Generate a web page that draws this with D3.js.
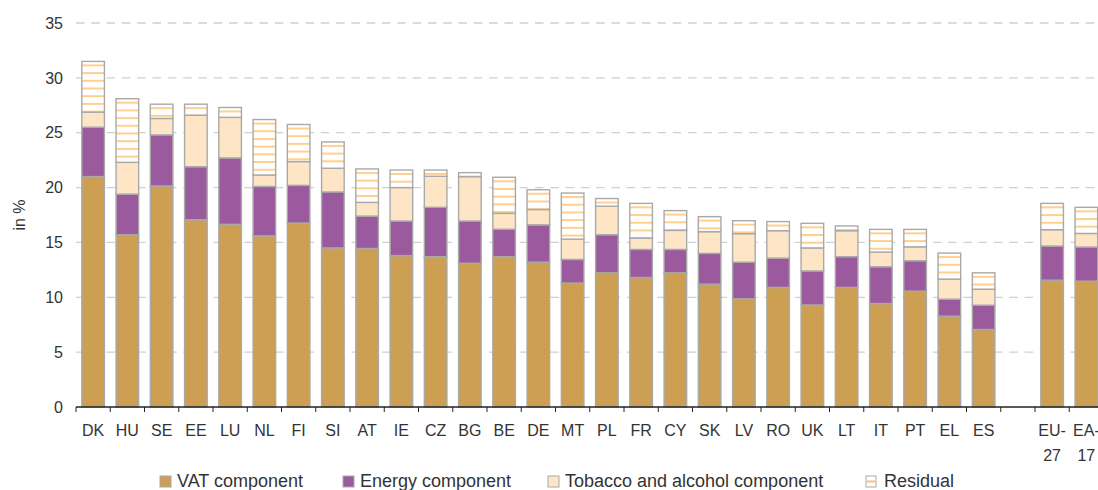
<!DOCTYPE html>
<html>
<head>
<meta charset="utf-8">
<script src="https://cdn.jsdelivr.net/npm/d3@7"></script>
<style>
  body { margin: 0; background: #fff; }
  svg text { font-family: "Liberation Sans", Arial, sans-serif; fill: #333; }
</style>
</head>
<body>
<div id="chart"></div>
<script>
// countries, with an empty slot before the aggregates
var categories = ["DK","HU","SE","EE","LU","NL","FI","SI","AT","IE","CZ","BG","BE","DE","MT",
                  "PL","FR","CY","SK","LV","RO","UK","LT","IT","PT","EL","ES","","EU-27","EA-17"];
var tickLabels = [["DK"],["HU"],["SE"],["EE"],["LU"],["NL"],["FI"],["SI"],["AT"],["IE"],["CZ"],["BG"],["BE"],["DE"],["MT"],
                  ["PL"],["FR"],["CY"],["SK"],["LV"],["RO"],["UK"],["LT"],["IT"],["PT"],["EL"],["ES"],[],["EU-","27"],["EA-","17"]];

var vatComponent     = [21.0,15.7,20.15,17.07,16.65,15.6,16.77,14.5,14.45,13.8,13.7,13.1,13.7,13.2,11.3,
                        12.23,11.8,12.23,11.2,9.86,10.9,9.3,10.9,9.43,10.56,8.28,7.06,null,11.56,11.47];
var energyComponent  = [4.5,3.7,4.65,4.83,6.05,4.5,3.43,5.1,2.95,3.15,4.5,3.85,2.5,3.4,2.15,
                        3.47,2.56,2.13,2.8,3.34,2.67,3.1,2.8,3.35,2.77,1.55,2.22,null,3.11,3.11];
var tobaccoComponent = [1.37,2.9,1.5,4.7,3.7,1.05,2.17,2.16,1.25,3.05,2.83,4.05,1.45,1.4,1.85,
                        2.6,1.04,1.74,1.98,2.6,2.5,2.1,2.37,1.34,1.27,1.83,1.46,null,1.49,1.24];
var residual         = [4.63,5.8,1.3,1.0,0.9,5.05,3.38,2.4,3.05,1.6,0.57,0.36,3.29,1.8,4.2,
                        0.7,3.16,1.8,1.37,1.18,0.83,2.24,0.43,2.07,1.59,2.37,1.49,null,2.4,2.38];

var seriesNames = ["VAT component","Energy component","Tobacco and alcohol component","Residual"];
var yTicks = [0,5,10,15,20,25,30,35];

var colors = ["#cc9f53","#9a5a9d","#fde5c6","url(#resid)"];

var width = 1098, height = 490;
var margin = {top: 23, left: 76, bottom: 83};

var svg = d3.select("#chart").append("svg")
    .attr("width", width)
    .attr("height", height);

var xScale = d3.scaleBand()
    .domain(categories)
    .range([margin.left, margin.left + 30 * 34.25])
    .paddingInner(0.34)
    .paddingOuter(0.17);
var yScale = d3.scaleLinear().domain([0, 35]).range([height - margin.bottom, margin.top]);

var rows = categories.map(function(c, i) {
    return {cat: c, values: [vatComponent[i], energyComponent[i], tobaccoComponent[i], residual[i]]};
}).filter(function(d) { return d.cat !== ""; });

var stack = d3.stack().keys([0,1,2,3]).value(function(d, k) { return d.values[k]; });
var layers = stack(rows);

// stripes for the residual, one pattern per bar so they start from the top
var defs = svg.append("defs");
var stripeGap = 7.7;
rows.forEach(function(d, i) {
    var top = yScale(d3.sum(d.values));
    var p = defs.append("pattern")
        .attr("id", "resid" + i)
        .attr("patternUnits", "userSpaceOnUse")
        .attr("x", 0).attr("y", top + 3)
        .attr("width", 10).attr("height", stripeGap);
    p.append("rect").attr("width", 10).attr("height", stripeGap).attr("fill", "#fff");
    p.append("rect").attr("y", 0).attr("width", 10).attr("height", 2).attr("fill", "#ffd08c");
});

// dashed gridlines
svg.append("g").selectAll("line")
    .data(yTicks.slice(1))
    .enter().append("line")
    .attr("x1", margin.left).attr("x2", width)
    .attr("y1", function(d) { return yScale(d); })
    .attr("y2", function(d) { return yScale(d); })
    .attr("stroke", "#d0d0d0")
    .attr("stroke-width", 1.3)
    .attr("stroke-dasharray", "8.5,6.8");

svg.append("g").selectAll("text")
    .data(yTicks)
    .enter().append("text")
    .attr("x", margin.left - 13)
    .attr("y", function(d) { return yScale(d); })
    .attr("dy", "0.36em")
    .attr("text-anchor", "end")
    .style("font-size", "16px")
    .text(function(d) { return d; });

svg.append("text")
    .attr("transform", "translate(25," + yScale(17.5) + ") rotate(-90)")
    .attr("text-anchor", "middle")
    .style("font-size", "16px")
    .text("in %");

var layerG = svg.selectAll(".layer")
    .data(layers)
    .enter().append("g")
    .attr("class", "layer");

layerG.selectAll("rect")
    .data(function(d) { return d.map(function(s, i) { s.key = d.key; s.idx = i; return s; }); })
    .enter().append("rect")
    .attr("x", function(d) { return xScale(d.data.cat); })
    .attr("width", xScale.bandwidth())
    .attr("y", function(d) { return yScale(d[1]); })
    .attr("height", function(d) { return yScale(d[0]) - yScale(d[1]); })
    .attr("fill", function(d) { return d.key === 3 ? "url(#resid" + d.idx + ")" : colors[d.key]; })
    .attr("stroke", "#a9a9a9")
    .attr("stroke-width", 1.4);

// x axis: baseline with ticks between the slots
var x0 = xScale.range()[0], step = xScale.step();
var axisG = svg.append("g");
axisG.append("line")
    .attr("x1", x0).attr("x2", width)
    .attr("y1", yScale(0)).attr("y2", yScale(0))
    .attr("stroke", "#222").attr("stroke-width", 1.3);
axisG.selectAll(".tick")
    .data(d3.range(categories.length + 1))
    .enter().append("line")
    .attr("x1", function(i) { return x0 + i * step; })
    .attr("x2", function(i) { return x0 + i * step; })
    .attr("y1", yScale(0)).attr("y2", yScale(0) + 5)
    .attr("stroke", "#222").attr("stroke-width", 1);

var labelG = axisG.selectAll(".lab")
    .data(categories)
    .enter().append("text")
    .attr("text-anchor", "middle")
    .attr("x", function(d) { return xScale(d) + xScale.bandwidth() / 2; })
    .attr("y", yScale(0) + 29)
    .style("font-size", "16px");
labelG.each(function(d, i) {
    var t = d3.select(this);
    tickLabels[i].forEach(function(s, j) {
        t.append("tspan")
            .attr("x", xScale(d) + xScale.bandwidth() / 2)
            .attr("dy", j === 0 ? 0 : 25)
            .text(s);
    });
});

// legend
var legendX = [160, 343, 548, 866];
var legend = svg.append("g").selectAll("g")
    .data(seriesNames)
    .enter().append("g")
    .attr("transform", function(d, i) { return "translate(" + legendX[i] + ",476)"; });
legend.append("rect")
    .attr("width", function(d, i) { return i === 3 ? 10 : 11; })
    .attr("height", 11)
    .attr("fill", function(d, i) { return i === 3 ? "#fff" : colors[i]; })
    .attr("stroke", "#a9a9a9")
    .attr("stroke-width", 1);
legend.filter(function(d, i) { return i === 3; })
    .append("rect")
    .attr("x", 1).attr("y", 4.5).attr("width", 8).attr("height", 2)
    .attr("fill", "#ffc070");
legend.append("text")
    .attr("x", function(d, i) { return i === 3 ? 18 : 17; })
    .attr("y", 11)
    .style("font-size", "18px")
    .text(function(d) { return d; });
</script>
</body>
</html>
